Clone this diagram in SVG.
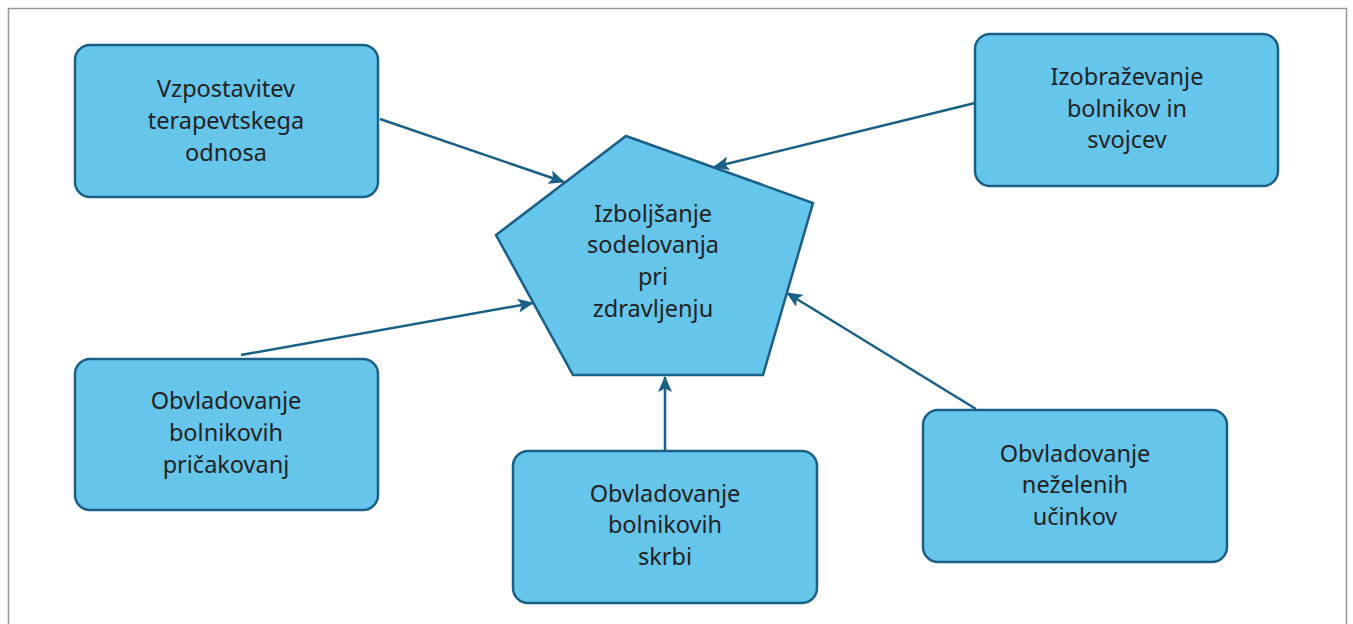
<svg xmlns="http://www.w3.org/2000/svg" width="1353" height="624" viewBox="0 0 1353 624">
<style>
.n{fill:#66c5eb;stroke:#1a5f85;stroke-width:2.5}
.t{font-family:"Source Sans Pro","Noto Sans",sans-serif;font-size:23.5px;fill:#222;text-anchor:middle}
.c{stroke:#1a5f85;stroke-width:2.5;fill:none;marker-end:url(#a)}
</style>
<defs>
<marker id="a" markerWidth="16" markerHeight="14" refX="15" refY="7" orient="auto" markerUnits="userSpaceOnUse">
<path d="M0,0 L16,7 L0,14 L3.5,7 Z" fill="#1a5f85"/>
</marker>
</defs>
<rect x="8.5" y="8.5" width="1338" height="630" fill="#fff" stroke="#999" stroke-width="1.5"/>
<g id="connectors">
<line class="c" x1="380" y1="119" x2="564" y2="182"/>
<line class="c" x1="975" y1="103" x2="714" y2="167"/>
<line class="c" x1="241" y1="355" x2="533" y2="303"/>
<line class="c" x1="665" y1="451" x2="665" y2="377"/>
<line class="c" x1="976" y1="409" x2="787" y2="293"/>
</g>
<g id="center">
<polygon class="n" points="626,136 813,203 763,375 573,375 496,235"/>
<text class="t" x="653" y="222">Izboljšanje</text>
<text class="t" x="653" y="253">sodelovanja</text>
<text class="t" x="653" y="285">pri</text>
<text class="t" x="653" y="317">zdravljenju</text>
</g>
<g id="n1">
<rect class="n" x="75" y="45" width="303" height="152" rx="15"/>
<text class="t" x="226" y="97">Vzpostavitev</text>
<text class="t" x="226" y="129">terapevtskega</text>
<text class="t" x="226" y="161">odnosa</text>
</g>
<g id="n2">
<rect class="n" x="975" y="34" width="303" height="152" rx="15"/>
<text class="t" x="1127" y="85">Izobraževanje</text>
<text class="t" x="1127" y="117">bolnikov in</text>
<text class="t" x="1127" y="148">svojcev</text>
</g>
<g id="n3">
<rect class="n" x="75" y="359" width="303" height="151" rx="15"/>
<text class="t" x="226" y="409">Obvladovanje</text>
<text class="t" x="226" y="441">bolnikovih</text>
<text class="t" x="226" y="473">pričakovanj</text>
</g>
<g id="n4">
<rect class="n" x="513" y="451" width="304" height="152" rx="15"/>
<text class="t" x="665" y="502">Obvladovanje</text>
<text class="t" x="665" y="533">bolnikovih</text>
<text class="t" x="665" y="565">skrbi</text>
</g>
<g id="n5">
<rect class="n" x="923" y="410" width="304" height="152" rx="15"/>
<text class="t" x="1075" y="462">Obvladovanje</text>
<text class="t" x="1075" y="493">neželenih</text>
<text class="t" x="1075" y="525">učinkov</text>
</g>
</svg>
